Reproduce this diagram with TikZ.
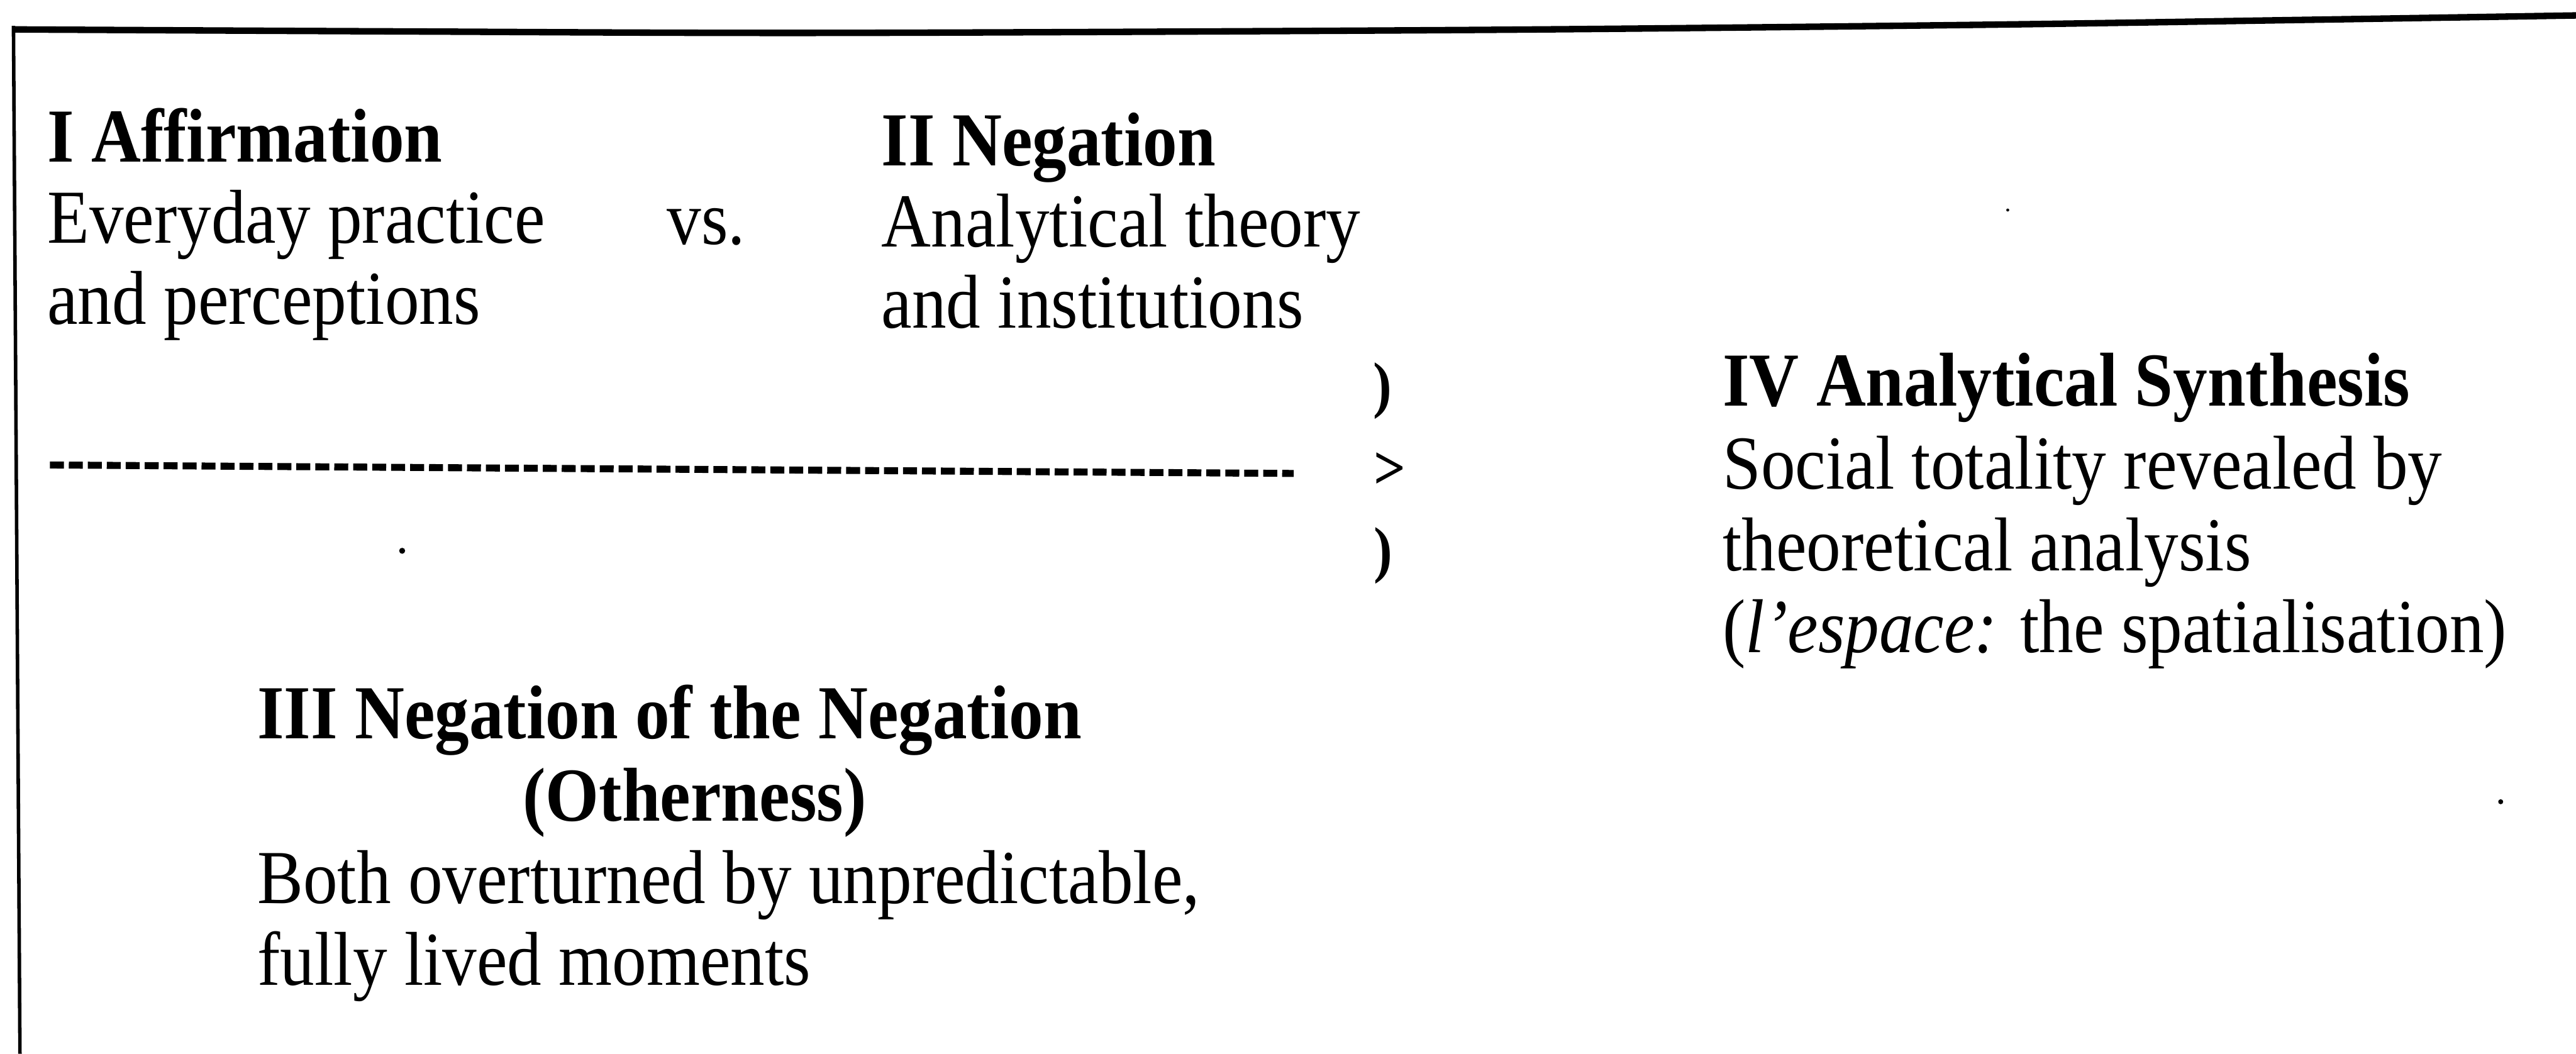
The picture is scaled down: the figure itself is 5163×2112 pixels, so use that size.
\documentclass[tikz,border=0pt]{standalone}
\usepackage{fontspec}
\setmainfont{Liberation Serif}[FakeStretch=0.9]
\begin{document}
\begin{tikzpicture}[x=0.1pt,y=-0.1pt,
  txt/.style={anchor=base west, inner sep=0pt, font=\fontsize{15.3}{16.5}\selectfont},
  hd/.style={anchor=base west, inner sep=0pt, font=\fontsize{15.3}{16.5}\selectfont\bfseries},
  brk/.style={anchor=base west, inner sep=0pt, font=\fontsize{12.5}{14}\selectfont\bfseries},
  frametop/.style={line width=1.3pt, line cap=butt},
  frameside/.style={line width=0.7pt},
  dashline/.style={line width=1.4pt, dash pattern=on 2.8pt off 1.0pt},
  speck/.style={fill=black}]
\path[fill=white] (0,0) rectangle (5163,2112);
\useasboundingbox (0,0) rectangle (5163,2112);

% frame
\draw[frameside] (40,2112) -- (27,52);
\draw[frametop] plot[smooth] coordinates {(24,59) (800,63) (1650,66) (2960,60) (3950,50) (4610,40) (5163,31)};

% I
\node[hd]  (i1) at (93,325)   {I Affirmation};
\node[txt] (i2) at (93,487)   {Everyday practice};
\node[txt] (i3) at (93,650)   {and perceptions};
\node[txt] (vs) at (1335,490) {vs.};

% II
\node[hd]  (ii1) at (1765,332) {II Negation};
\node[txt] (ii2) at (1765,495) {Analytical theory};
\node[txt] (ii3) at (1765,657) {and institutions};

% dashed line and brackets
\coordinate (dl) at (100,932);
\coordinate (dr) at (2593,949);
\draw[dashline] (dl) -- (dr);
\node[brk] (b1) at (2750,814)  {)};
\node[brk] (b2) at (2752,980)  {>};
\node[brk] (b3) at (2752,1144) {)};

% IV
\node[hd]  (iv1) at (3451,814)  {IV Analytical Synthesis};
\node[txt] (iv2) at (3451,980)  {Social totality revealed by};
\node[txt] (iv3) at (3451,1144) {theoretical analysis};
\node[txt] (iv4) at (3451,1308) {(\textit{l’espace:} the spatialisation)};

% III
\node[hd]  (iii1) at (514,1480)  {III Negation of the Negation};
\node[hd]  (iii2) at (1046,1646) {(Otherness)};
\node[txt] (iii3) at (514,1811)  {Both overturned by unpredictable,};
\node[txt] (iii4) at (514,1974)  {fully lived moments};

% scan specks
\fill[speck] (806,1104) circle[radius=6];
\fill[speck] (4024,421) circle[radius=3];
\fill[speck] (5012,1607) circle[radius=5];
\end{tikzpicture}
\end{document}
